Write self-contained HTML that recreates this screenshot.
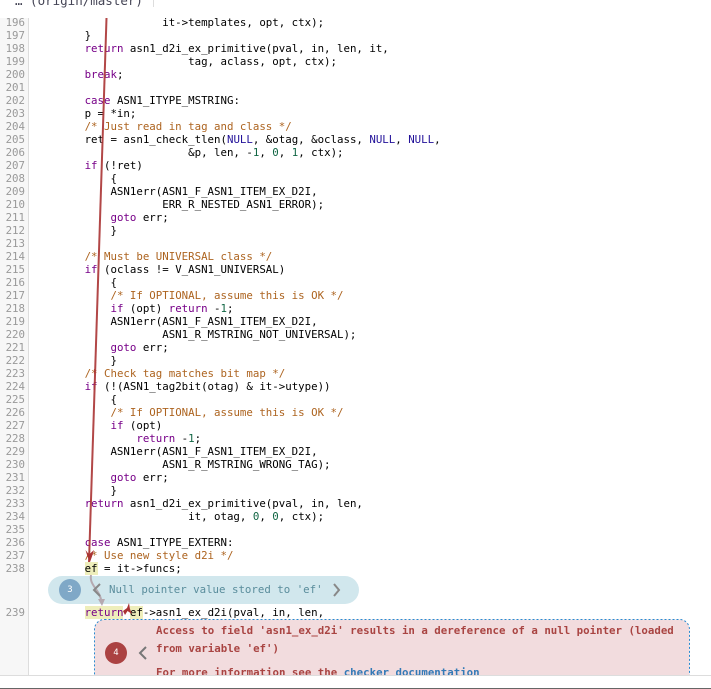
<!DOCTYPE html>
<html><head><meta charset="utf-8"><style>
html,body{margin:0;padding:0;background:#fff}
#p{position:relative;width:711px;height:689px;overflow:hidden;background:#fff;font-family:"DejaVu Sans Mono",monospace;font-size:10.76px;color:#000}
.l{position:absolute;left:32.8px;height:13px;line-height:13px;white-space:pre}
.n{position:absolute;left:0;width:25px;text-align:right;height:13px;line-height:13px;color:#999}
.k{color:#708}.c{color:#ad6420}.a{color:#219}.d{color:#164}
.h{background:#eeeebb;display:inline-block;height:12.5px;vertical-align:top}
</style></head><body><div id="p">
<div style="position:absolute;left:0;top:18px;width:28px;height:657px;background:#f7f7f7;border-right:1px solid #ddd"></div>
<div style="position:absolute;left:15px;top:-6px;font-size:12.500px;color:#445;white-space:pre;line-height:14px">… (origin/master)</div>
<div style="position:absolute;left:153px;top:0;width:1px;height:7px;background:#ddd"></div>

<div class="n" style="top:16px">196</div><div class="l" style="top:16px">                    it-&gt;templates, opt, ctx);</div>
<div class="n" style="top:29px">197</div><div class="l" style="top:29px">        }</div>
<div class="n" style="top:42px">198</div><div class="l" style="top:42px">        <span class="k">return</span> asn1_d2i_ex_primitive(pval, in, len, it,</div>
<div class="n" style="top:55px">199</div><div class="l" style="top:55px">                        tag, aclass, opt, ctx);</div>
<div class="n" style="top:68px">200</div><div class="l" style="top:68px">        <span class="k">break</span>;</div>
<div class="n" style="top:81px">201</div>
<div class="n" style="top:94px">202</div><div class="l" style="top:94px">        <span class="k">case</span> ASN1_ITYPE_MSTRING:</div>
<div class="n" style="top:107px">203</div><div class="l" style="top:107px">        p = *in;</div>
<div class="n" style="top:120px">204</div><div class="l" style="top:120px">        <span class="c">/* Just read in tag and class */</span></div>
<div class="n" style="top:133px">205</div><div class="l" style="top:133px">        ret = asn1_check_tlen(<span class="a">NULL</span>, &amp;otag, &amp;oclass, <span class="a">NULL</span>, <span class="a">NULL</span>,</div>
<div class="n" style="top:146px">206</div><div class="l" style="top:146px">                        &amp;p, len, -<span class="d">1</span>, <span class="d">0</span>, <span class="d">1</span>, ctx);</div>
<div class="n" style="top:159px">207</div><div class="l" style="top:159px">        <span class="k">if</span> (!ret)</div>
<div class="n" style="top:172px">208</div><div class="l" style="top:172px">            {</div>
<div class="n" style="top:185px">209</div><div class="l" style="top:185px">            ASN1err(ASN1_F_ASN1_ITEM_EX_D2I,</div>
<div class="n" style="top:198px">210</div><div class="l" style="top:198px">                    ERR_R_NESTED_ASN1_ERROR);</div>
<div class="n" style="top:211px">211</div><div class="l" style="top:211px">            <span class="k">goto</span> err;</div>
<div class="n" style="top:224px">212</div><div class="l" style="top:224px">            }</div>
<div class="n" style="top:237px">213</div>
<div class="n" style="top:250px">214</div><div class="l" style="top:250px">        <span class="c">/* Must be UNIVERSAL class */</span></div>
<div class="n" style="top:263px">215</div><div class="l" style="top:263px">        <span class="k">if</span> (oclass != V_ASN1_UNIVERSAL)</div>
<div class="n" style="top:276px">216</div><div class="l" style="top:276px">            {</div>
<div class="n" style="top:289px">217</div><div class="l" style="top:289px">            <span class="c">/* If OPTIONAL, assume this is OK */</span></div>
<div class="n" style="top:302px">218</div><div class="l" style="top:302px">            <span class="k">if</span> (opt) <span class="k">return</span> -<span class="d">1</span>;</div>
<div class="n" style="top:315px">219</div><div class="l" style="top:315px">            ASN1err(ASN1_F_ASN1_ITEM_EX_D2I,</div>
<div class="n" style="top:328px">220</div><div class="l" style="top:328px">                    ASN1_R_MSTRING_NOT_UNIVERSAL);</div>
<div class="n" style="top:341px">221</div><div class="l" style="top:341px">            <span class="k">goto</span> err;</div>
<div class="n" style="top:354px">222</div><div class="l" style="top:354px">            }</div>
<div class="n" style="top:367px">223</div><div class="l" style="top:367px">        <span class="c">/* Check tag matches bit map */</span></div>
<div class="n" style="top:380px">224</div><div class="l" style="top:380px">        <span class="k">if</span> (!(ASN1_tag2bit(otag) &amp; it-&gt;utype))</div>
<div class="n" style="top:393px">225</div><div class="l" style="top:393px">            {</div>
<div class="n" style="top:406px">226</div><div class="l" style="top:406px">            <span class="c">/* If OPTIONAL, assume this is OK */</span></div>
<div class="n" style="top:419px">227</div><div class="l" style="top:419px">            <span class="k">if</span> (opt)</div>
<div class="n" style="top:432px">228</div><div class="l" style="top:432px">                <span class="k">return</span> -<span class="d">1</span>;</div>
<div class="n" style="top:445px">229</div><div class="l" style="top:445px">            ASN1err(ASN1_F_ASN1_ITEM_EX_D2I,</div>
<div class="n" style="top:458px">230</div><div class="l" style="top:458px">                    ASN1_R_MSTRING_WRONG_TAG);</div>
<div class="n" style="top:471px">231</div><div class="l" style="top:471px">            <span class="k">goto</span> err;</div>
<div class="n" style="top:484px">232</div><div class="l" style="top:484px">            }</div>
<div class="n" style="top:497px">233</div><div class="l" style="top:497px">        <span class="k">return</span> asn1_d2i_ex_primitive(pval, in, len,</div>
<div class="n" style="top:510px">234</div><div class="l" style="top:510px">                        it, otag, <span class="d">0</span>, <span class="d">0</span>, ctx);</div>
<div class="n" style="top:523px">235</div>
<div class="n" style="top:536px">236</div><div class="l" style="top:536px">        <span class="k">case</span> ASN1_ITYPE_EXTERN:</div>
<div class="n" style="top:549px">237</div><div class="l" style="top:549px">        <span class="c">/* Use new style d2i */</span></div>

<div style="position:absolute;left:48px;top:576px;width:311px;height:28px;border-radius:14px;background:#d1e7ed"></div>
<div style="position:absolute;left:59px;top:579px;width:22px;height:22px;border-radius:50%;background:#7fa8c7;color:#fff;text-align:center;line-height:22px;font-size:9px">3</div>
<div style="position:absolute;left:109px;top:583px;line-height:13px;white-space:pre;color:#5a8d9c">Null pointer value stored to 'ef'</div>

<svg width="711" height="689" style="position:absolute;left:0;top:0">
<rect x="94.500" y="619.500" width="595" height="80" rx="10" fill="#f2dcde" stroke="#2a8ad0" stroke-width="1" stroke-dasharray="2 2"/>
<line x1="106.500" y1="18" x2="89" y2="562" stroke="#a33" stroke-opacity=".9" stroke-width="2"/>
<polygon points="85.500,550 89,554.500 94,550 92,556.500 90,562 87.500,556.500" fill="#a33"/>
<path d="M91 575 C89 586 101 590 101.500 603" fill="none" stroke="#b5a9b0" stroke-width="2"/>
<polygon points="98,599 105,599 102,606" fill="#b5a9b0"/>
<path d="M100 584 L94 590 L100 596 M334 584 L339 590 L334 596" fill="none" stroke="#888" stroke-width="2"/>
<path d="M146 647 L140 653 L146 659" fill="none" stroke="#777" stroke-width="2"/>
</svg>

<div class="n" style="top:562px">238</div><div class="l" style="top:562px">        <span class="h">ef</span> = it-&gt;funcs;</div>
<div class="n" style="top:606px">239</div><div class="l" style="top:606px">        <span class="h"><span class="k">return</span></span> <span class="h">ef</span>-&gt;asn1_ex_d2i(pval, in, len,</div>

<svg width="711" height="689" style="position:absolute;left:0;top:0">
<polygon points="123,611 127,608 129,603 130,609 132,614 127.500,611 125,615" fill="#a33"/>
</svg>

<div style="position:absolute;left:105px;top:642px;width:22px;height:22px;border-radius:50%;background:#ab4242;color:#fff;text-align:center;line-height:22px;font-size:9px">4</div>
<div style="position:absolute;left:156px;top:622px;line-height:18px;white-space:pre;color:#a94442;font-weight:bold">Access to field 'asn1_ex_d2i' results in a dereference of a null pointer (loaded
from variable 'ef')</div>
<div style="position:absolute;left:156px;top:666px;line-height:13px;white-space:pre;color:#a94442;font-weight:bold">For more information see the <span style="color:#337ab7">checker documentation</span></div>

<div style="position:absolute;left:0;top:675px;width:711px;height:13px;background:#fff;border-top:1px solid #ddd;box-sizing:border-box"></div>
<div style="position:absolute;left:0;top:688px;width:711px;height:1px;background:#666"></div>
</div></body></html>
